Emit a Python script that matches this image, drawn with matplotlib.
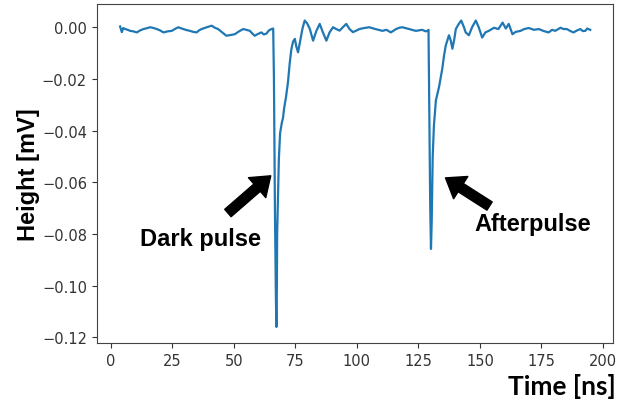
import matplotlib.pyplot as plt

# time [ns] and height [mV]
time = [3.8, 4.5, 5.1, 5.9, 6.9, 7.9, 9.2, 10.6, 12.0, 13.3, 14.6, 16.0, 17.4, 18.7, 20.0,
        21.4, 23.1, 24.8, 26.2, 27.5, 28.5, 29.5, 30.8, 32.2, 33.5, 34.9, 35.9, 36.9, 39.0,
        41.0, 42.3, 43.6, 45.3, 47.0, 48.7, 50.4, 52.1, 53.8, 55.1, 56.5, 57.5, 58.5, 59.8,
        61.2, 62.2, 63.2, 64.3, 65.3, 66.0,
        66.3, 66.7, 67.1, 67.3, 67.5, 67.6, 67.9, 68.3, 68.8, 69.5, 70.0, 70.4, 71.2, 72.0,
        72.7, 73.4, 74.1, 74.8, 75.4, 76.1, 77.0, 77.9, 78.8, 79.8, 80.9, 82.2, 83.5, 84.9,
        86.2, 87.6, 88.9, 90.3, 91.6, 93.0, 94.3, 95.7, 97.0, 98.4, 100.0, 101.0, 103.0,
        105.0, 107.5, 110.4, 112.0, 113.8, 115.9, 117.2, 118.5, 120.0, 121.3, 122.7, 124.0,
        126.5, 128.0, 128.7, 129.1,
        129.4, 129.8, 130.1, 130.4, 130.8, 131.3, 132.1, 133.4, 134.7, 135.4, 136.1, 137.4,
        138.1, 138.8, 139.5, 140.2, 141.2, 142.4, 143.5, 144.2, 145.5, 146.8, 148.3, 149.5,
        150.9, 152.2, 153.6, 155.7, 157.5, 159.2, 160.5, 161.7, 163.2, 164.5, 166.5, 168.0,
        169.8, 172.0, 173.9, 176.0, 177.9, 179.3, 180.6, 182.7, 184.0, 185.3, 186.8, 188.0,
        189.5, 190.8, 191.8, 192.8, 193.6, 194.1, 194.8]
height = [0.0003, -0.0019, -0.0003, -0.0007, -0.0010, -0.0014, -0.0016, -0.0020, -0.0012, -0.0007,
          -0.0004, 0.0000, -0.0003, -0.0007, -0.0012, -0.0020, -0.0016, -0.0014, -0.0006, 0.0000,
          -0.0004, -0.0007, -0.0011, -0.0014, -0.0018, -0.0020, -0.0012, -0.0007, 0.0000, 0.0006,
          -0.0002, -0.0007, -0.0020, -0.0033, -0.0030, -0.0027, -0.0016, -0.0007, -0.0010, -0.0014,
          -0.0024, -0.0033, -0.0026, -0.0020, -0.0028, -0.0025, -0.0012, -0.0007, -0.0005,
          -0.0200, -0.0700, -0.1050, -0.1160, -0.1000, -0.0800, -0.0670, -0.0510, -0.0410, -0.0370,
          -0.0350, -0.0316, -0.0270, -0.0213, -0.0140, -0.0084, -0.0055, -0.0045, -0.0075, -0.0097,
          -0.0050, -0.0005, 0.0026, 0.0015, -0.0007, -0.0052, -0.0015, 0.0013, -0.0020, -0.0052,
          -0.0020, 0.0000, -0.0007, -0.0013, 0.0000, 0.0013, -0.0007, -0.0019, -0.0012, -0.0007,
          -0.0003, 0.0000, -0.0007, -0.0014, -0.0010, -0.0020, -0.0007, -0.0002, 0.0000, -0.0004,
          -0.0007, -0.0011, -0.0014, -0.0010, -0.0016, -0.0014, -0.0010,
          -0.0300, -0.0700, -0.0858, -0.0750, -0.0500, -0.0380, -0.0283, -0.0230, -0.0160, -0.0110,
          -0.0071, -0.0031, -0.0050, -0.0083, -0.0050, -0.0007, 0.0010, 0.0026, 0.0000, -0.0020,
          -0.0031, 0.0000, 0.0026, 0.0000, -0.0040, -0.0020, -0.0014, -0.0002, -0.0007, 0.0018,
          -0.0005, 0.0013, -0.0027, -0.0018, -0.0014, -0.0007, -0.0003, -0.0010, -0.0007, -0.0015,
          -0.0020, -0.0010, -0.0014, -0.0002, -0.0007, -0.0007, -0.0015, -0.0020, -0.0012, -0.0007,
          -0.0015, -0.0014, -0.0005, -0.0007, -0.0010]

# annotations: label, text position, arrow tail, arrow head
labels = ['Dark pulse', 'Afterpulse']
label_pos = [(36.6, -0.0819), (171.3, -0.0761)]
arrow_tail = [(47.6, -0.0719), (153.9, -0.0692)]
arrow_head = [(65.0, -0.0575), (136.0, -0.0583)]

fig = plt.figure(figsize=(6.18, 4.02), dpi=100)
ax = fig.add_axes([0.1565, 0.1443, 0.836, 0.8433])

ax.plot(time, height, color='#1f77b4', lw=1.6)
ax.set_xlim(-5.7, 204.2)
ax.set_ylim(-0.1222, 0.009)
ax.set_xticks([0, 25, 50, 75, 100, 125, 150, 175, 200])
ax.set_yticks([0.0, -0.02, -0.04, -0.06, -0.08, -0.10, -0.12])
ax.tick_params(labelsize=10.5, labelcolor='#333333', color='#333333')
for sp in ax.spines.values():
    sp.set_color('#444444')

ax.set_ylabel('Height [mV]', fontsize=17, fontweight='bold',
              family='Liberation Sans', labelpad=2)
ax.yaxis.set_label_coords(-0.11, 0.5)

for lab, pos, tail, head in zip(labels, label_pos, arrow_tail, arrow_head):
    ax.annotate('', xy=head, xytext=tail,
                arrowprops=dict(facecolor='black', edgecolor='black',
                                width=7, headwidth=19, headlength=13, shrink=0))
    ax.text(pos[0], pos[1], lab, fontsize=17, fontweight='bold',
            family='Liberation Sans', ha='center', va='center')

fig.text(616 / 618, 1 - 387 / 402, 'Time [ns]', fontsize=19, fontweight='bold',
         family='Lato', ha='right', va='center')

fig.savefig('out.png', dpi=100)
